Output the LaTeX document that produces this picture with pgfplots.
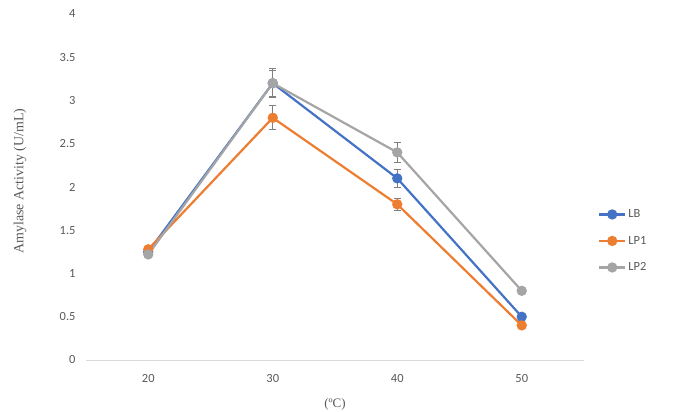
\documentclass[border=0pt]{standalone}
\usepackage{pgfplots}
\pgfplotsset{compat=1.18}
\usepackage{fontspec}
\setmainfont{Carlito}
\newfontfamily\serif{Liberation Serif}
\definecolor{cLB}{HTML}{4472C4}
\definecolor{cLPa}{HTML}{ED7D31}
\definecolor{cLPb}{HTML}{A5A5A5}
\definecolor{ctick}{HTML}{595959}
\definecolor{cax}{HTML}{D9D9D9}
\definecolor{cerr}{HTML}{7F7F7F}
\begin{document}
\begin{tikzpicture}
\path[use as bounding box] (0,0) rectangle (680bp,412bp);
\begin{axis}[
  at={(86bp,52bp)}, anchor=south west,
  scale only axis, width=498bp, height=346bp,
  xmin=-0.5, xmax=3.5, ymin=0, ymax=4,
  xtick={0,1,2,3}, xticklabels={20,30,40,50},
  ytick={0,0.5,1,1.5,2,2.5,3,3.5,4},
  axis line style={draw=none},
  major tick length=0pt,
  /pgf/number format/assume math mode=true,
  ticklabel style={font=\fontsize{12.5}{14}\selectfont, text=ctick},
  yticklabel style={xshift=-7bp},
  xticklabel style={yshift=-11bp},
  clip=false,
  legend style={draw=none, fill=none, at={(1.022,0.344)}, anchor=west,
    font=\fontsize{12.5}{14}\selectfont, text=ctick, row sep=13bp,
    legend cell align=left},
  legend image code/.code={\draw[mark repeat=2,mark phase=2] plot coordinates {(0bp,0bp) (13bp,0bp) (26bp,0bp)};},
  every axis plot/.append style={line width=2.2bp, mark=*, mark size=4bp},
  error bars/error bar style={color=cerr, line width=0.9bp, solid},
  error bars/error mark options={rotate=90, mark size=3.5bp, line width=0.9bp, color=cerr},
]
\draw[cax, line width=0.8bp] (rel axis cs:0,0) -- (rel axis cs:1,0);
\addplot[color=cLB, mark options={fill=cLB}, error bars/.cd, y dir=both, y explicit]
  coordinates {(0,1.25) +- (0,0.03) (1,3.2) +- (0,0.15) (2,2.1) +- (0,0.1) (3,0.5) +- (0,0.02)};
\addlegendentry{LB}
\addplot[color=cLPa, mark options={fill=cLPa}, error bars/.cd, y dir=both, y explicit]
  coordinates {(0,1.28) +- (0,0.03) (1,2.8) +- (0,0.14) (2,1.8) +- (0,0.07) (3,0.4) +- (0,0.02)};
\addlegendentry{LP1}
\addplot[color=cLPb, mark options={fill=cLPb}, error bars/.cd, y dir=both, y explicit]
  coordinates {(0,1.22) +- (0,0.03) (1,3.2) +- (0,0.17) (2,2.4) +- (0,0.12) (3,0.8) +- (0,0.02)};
\addlegendentry{LP2}
\end{axis}
\node[rotate=90, font=\serif\fontsize{14}{16}\selectfont, text=ctick] at (20bp,231bp) {Amylase Activity (U/mL)};
\node[font=\serif\fontsize{13}{15}\selectfont, text=ctick] at (335bp,8bp) {(ºC)};
\end{tikzpicture}
\end{document}
